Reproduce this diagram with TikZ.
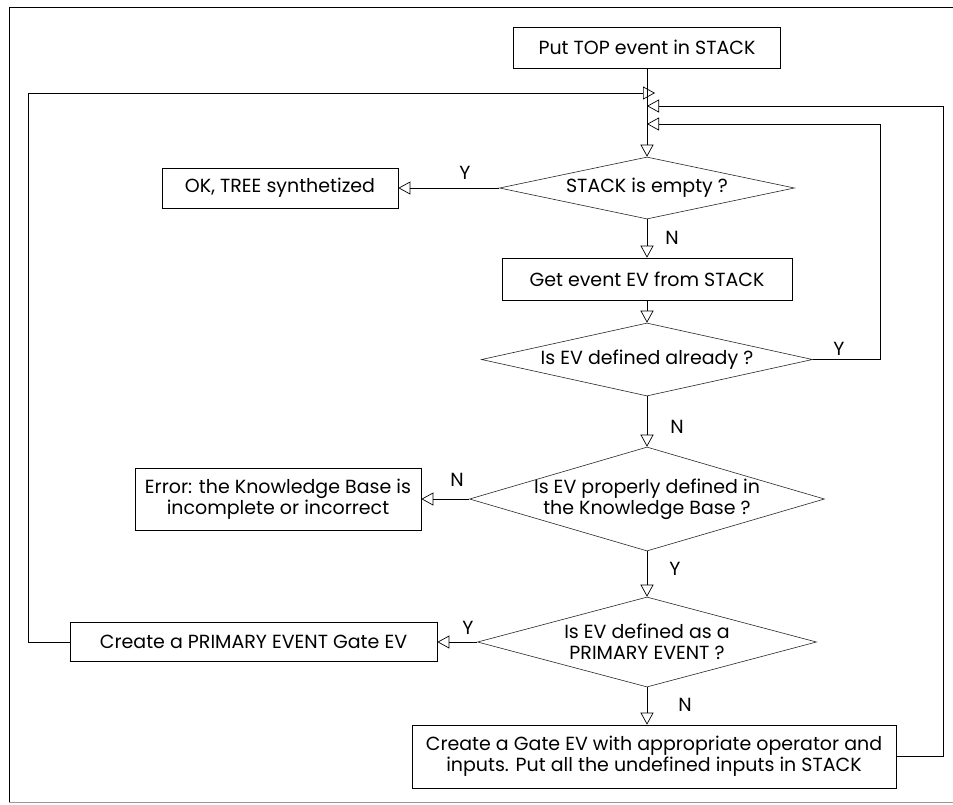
\documentclass[tikz,border=0pt]{standalone}
\usepackage{fontspec}
\setmainfont{Poppins}
\usetikzlibrary{arrows.meta, shapes.geometric}

\begin{document}
\begin{tikzpicture}[
    x=1pt, y=-1pt,
    % plain boxes for the actions
    box/.style={
        rectangle,
        draw=black,
        line width=0.7pt,
        inner sep=0pt,
        align=center,
        font=\fontsize{19}{21}\selectfont
    },
    % diamonds for the tests
    decision/.style={
        diamond,
        draw=black!85,
        line width=0.6pt,
        inner sep=-6pt,
        align=center,
        font=\fontsize{19}{21}\selectfont
    },
    % Y / N labels
    answer/.style={
        inner sep=0pt,
        font=\fontsize{19}{21}\selectfont
    },
    % open triangle arrows
    arrow/.style={
        -{Triangle[open, length=12pt, width=13pt]},
        line width=0.7pt
    }
]
\useasboundingbox (0,0) rectangle (953,804);

% frame
\draw[line width=1pt] (953,7) -- (9,7) -- (9,802);
\draw[black!40, line width=0.8pt] (9,802) -- (953,802);

% ==============================
% Main column
% ==============================
\node[box, minimum width=267pt, minimum height=41pt] (top) at (647,47.5) {Put TOP event in STACK};

\node[decision, minimum width=295pt, minimum height=62pt, aspect=4.75] (empty) at (647,188) {STACK is empty ?};

\node[box, minimum width=290pt, minimum height=42pt] (get) at (647,279) {Get event EV from STACK};

\node[decision, minimum width=331pt, minimum height=73pt, aspect=4.5] (defined) at (647,359.5) {Is EV defined already ?};

\node[decision, minimum width=355pt, minimum height=104pt, aspect=3.4] (proper) at (647,499) {Is EV properly defined in\\the Knowledge Base ?};

\node[decision, minimum width=339pt, minimum height=90pt, aspect=3.77] (primary) at (647,642) {Is EV defined as a\\PRIMARY EVENT ?};

\node[box, minimum width=484pt, minimum height=63pt] (mkgate) at (654,756.5) {Create a Gate EV with appropriate operator and\\inputs. Put all the undefined inputs in STACK};

% ==============================
% Side boxes
% ==============================
\node[box, minimum width=236pt, minimum height=40pt] (ok) at (280,188) {OK, TREE synthetized};

\node[box, minimum width=286pt, minimum height=62pt] (error) at (278,499) {Error: the Knowledge Base is\\incomplete or incorrect};

\node[box, minimum width=367pt, minimum height=39pt] (mkprim) at (253.5,642) {Create a PRIMARY EVENT Gate EV};

% entry points on the main column
\coordinate (inLeft) at (655,93);
\coordinate (inOuter) at (647,106);
\coordinate (inInner) at (647,124);

% ==============================
% Arrows
% ==============================
\draw[arrow] (top.south) -- (empty.north);
\draw[arrow] (empty.west) -- (ok.east);
\draw[arrow] (empty.south) -- (get.north);
\draw[arrow] (get.south) -- (defined.north);
\draw[arrow] (defined.south) -- (proper.north);
\draw[arrow] (proper.west) -- (error.east);
\draw[arrow] (proper.south) -- (primary.north);
\draw[arrow] (primary.west) -- (mkprim.east);
\draw[arrow] (primary.south) -- (primary.south |- mkgate.north);

% loops back to the stack test
\draw[arrow] (mkprim.west) -- ++(-41,0) |- (inLeft);
\draw[arrow] (mkgate.east) -- ++(47,0) |- (inOuter);
\draw[arrow] (defined.east) -- ++(68,0) |- (inInner);

% Y / N labels
\node[answer] (yEmpty) at (465,173) {Y};
\node[answer] (nEmpty) at (672,238) {N};
\node[answer] (yDefined) at (839,349) {Y};
\node[answer] (nDefined) at (677,427) {N};
\node[answer] (nProper) at (457,480) {N};
\node[answer] (yProper) at (675,569) {Y};
\node[answer] (yPrimary) at (468,628) {Y};
\node[answer] (nPrimary) at (685,705) {N};

\end{tikzpicture}
\end{document}
